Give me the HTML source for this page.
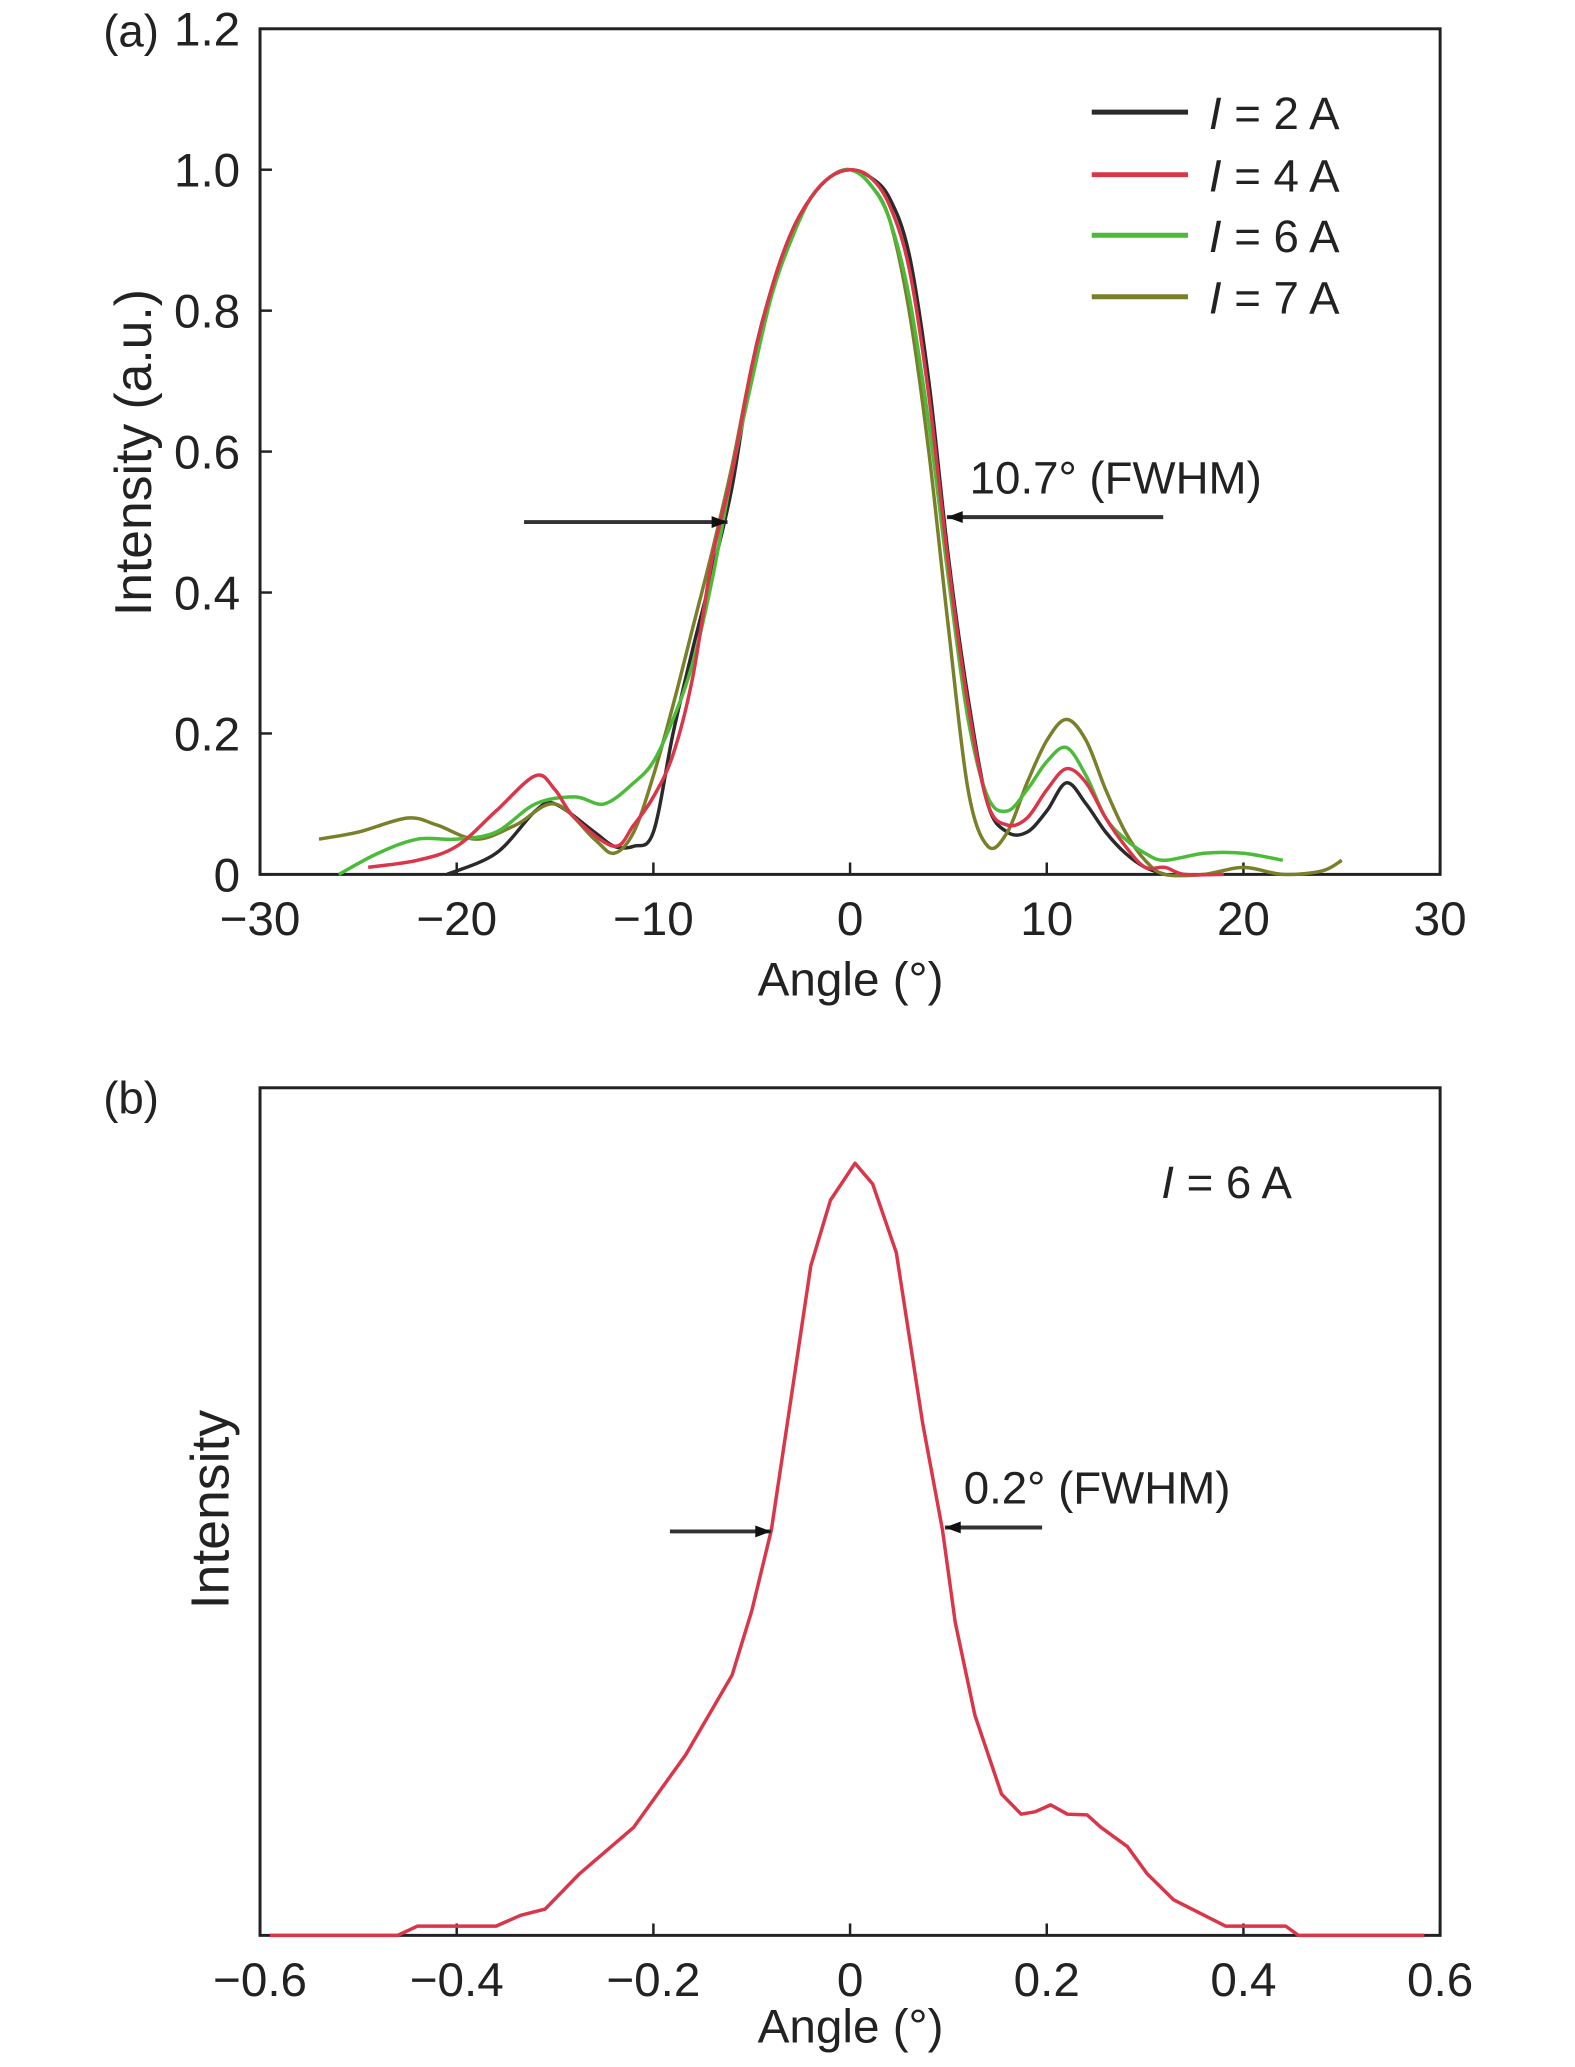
<!DOCTYPE html>
<html><head><meta charset="utf-8"><style>
html,body{margin:0;padding:0;background:#fff}
svg{display:block;font-family:"Liberation Sans",sans-serif}
</style></head><body>
<svg id="fig" width="1575" height="2067" viewBox="0 0 1575 2067">
<g transform="scale(0.9925)">
<g id="pa"></g>
<g id="pb"></g>
</g>
</svg>
<script>
const NS='http://www.w3.org/2000/svg';
// Panel (a) data
const aXTicks=[-30,-20,-10,0,10,20,30];
const aYTicks=[0,0.2,0.4,0.6,0.8,1.0,1.2];
const aYTickLabels=['0','0.2','0.4','0.6','0.8','1.0','1.2'];
const s2x=[-20.5,-18,-16,-15,-13,-12,-11,-10,-9,-8,-7,-6,-5,-4,-3,-2,-1,0,1,2,3,4,5,6,7,8,9,10,11,12,13,14,15,16];
const s2y=[0,0.03,0.09,0.1,0.06,0.04,0.04,0.06,0.2,0.32,0.43,0.55,0.72,0.83,0.91,0.96,0.99,1.0,0.99,0.96,0.88,0.7,0.45,0.25,0.1,0.06,0.06,0.09,0.13,0.1,0.06,0.03,0.01,0];
const s4x=[-24.5,-22,-20,-18,-16,-15,-14,-12,-11,-10,-9,-8,-7,-6,-5,-4,-3,-2,-1,0,1,2,3,4,5,6,7,8,9,10,11,12,13,14,15,16,17,19];
const s4y=[0.01,0.02,0.04,0.09,0.14,0.12,0.08,0.04,0.07,0.11,0.17,0.28,0.45,0.57,0.72,0.83,0.91,0.96,0.99,1.0,0.99,0.95,0.86,0.68,0.44,0.24,0.1,0.07,0.08,0.12,0.15,0.13,0.08,0.04,0.01,0.01,0,0];
const s6x=[-26,-24,-22,-20,-18,-16,-14,-12.5,-11,-10,-9,-8,-7,-6,-5,-4,-3,-2,-1,0,1,2,3,4,5,6,7,8,9,10,11,12,13,14,15,16,18,20,22];
const s6y=[0,0.03,0.05,0.05,0.06,0.1,0.11,0.1,0.13,0.16,0.22,0.3,0.42,0.57,0.7,0.82,0.9,0.96,0.99,1.0,0.98,0.93,0.82,0.64,0.42,0.22,0.11,0.09,0.12,0.16,0.18,0.14,0.08,0.05,0.03,0.02,0.03,0.03,0.02];
const s7x=[-27,-25,-22.5,-21,-19,-17,-15,-13,-12,-11,-10,-9,-8,-7,-6,-5,-4,-3,-2,-1,0,1,2,3,4,5,6,7,8,9,10,11,12,13,14,15,16,18,20,22,24,25];
const s7y=[0.05,0.06,0.08,0.07,0.05,0.07,0.1,0.05,0.03,0.06,0.14,0.24,0.35,0.46,0.58,0.72,0.83,0.91,0.96,0.99,1.0,0.98,0.93,0.8,0.6,0.35,0.12,0.04,0.06,0.13,0.19,0.22,0.19,0.12,0.06,0.02,0,0,0.01,0,0.005,0.02];
const seriesNames=['I = 2 A','I = 4 A','I = 6 A','I = 7 A'];
// Panel (b) data
const bXTicks=[-0.6,-0.4,-0.2,0,0.2,0.4,0.6];
const bXTickLabels=['\u22120.6','\u22120.4','\u22120.2','0','0.2','0.4','0.6'];
const bx=[-0.59,-0.46,-0.44,-0.36,-0.335,-0.31,-0.275,-0.22,-0.167,-0.12,-0.1,-0.08,-0.06,-0.04,-0.02,0.005,0.023,0.047,0.074,0.094,0.107,0.127,0.154,0.174,0.188,0.204,0.221,0.241,0.255,0.282,0.302,0.329,0.382,0.443,0.456,0.584];
const by=[0,0,0.012,0.012,0.026,0.034,0.08,0.14,0.234,0.337,0.42,0.525,0.696,0.867,0.952,1.0,0.973,0.884,0.662,0.525,0.405,0.285,0.183,0.157,0.16,0.169,0.157,0.156,0.14,0.115,0.08,0.046,0.012,0.012,0,0];

function el(tag,attrs,parent,text){const e=document.createElementNS(NS,tag);for(const k in attrs)e.setAttribute(k,attrs[k]);if(text!==undefined)e.textContent=text;parent.appendChild(e);return e;}
function smooth(pts){
  let d='M'+pts[0][0].toFixed(1)+','+pts[0][1].toFixed(1);
  for(let i=0;i<pts.length-1;i++){
    const p0=pts[Math.max(i-1,0)],p1=pts[i],p2=pts[i+1],p3=pts[Math.min(i+2,pts.length-1)];
    const c1=[p1[0]+(p2[0]-p0[0])/6,p1[1]+(p2[1]-p0[1])/6];
    const c2=[p2[0]-(p3[0]-p1[0])/6,p2[1]-(p3[1]-p1[1])/6];
    d+=` C${c1[0].toFixed(1)},${c1[1].toFixed(1)} ${c2[0].toFixed(1)},${c2[1].toFixed(1)} ${p2[0].toFixed(1)},${p2[1].toFixed(1)}`;
  }
  return d;
}
const L=262,R=1451;
// Panel a axes
const aTop=29,aBot=881;
const ax=v=>L+(v+30)/60*(R-L);
const ay=v=>aBot-v/1.2*(aBot-aTop);
const pa=document.getElementById('pa');
const fa=el('rect',{x:L,y:aTop,width:R-L,height:aBot-aTop,fill:'none',stroke:'#222','stroke-width':3},pa);


aXTicks.forEach(t=>{
  const ln=el('line',{x1:ax(t),x2:ax(t),y1:aBot,y2:aBot-12,stroke:'#222','stroke-width':2.5},pa);
  
  
  const tx=el('text',{x:ax(t),y:aBot+61,'font-size':48,'text-anchor':'middle',fill:'#222'},pa,t<0?'\u2212'+(-t):String(t));
  
  
});
aYTicks.forEach((t,i)=>{
  const ln=el('line',{x1:L,x2:L+12,y1:ay(t),y2:ay(t),stroke:'#222','stroke-width':2.5},pa);
  
  
  const tx=el('text',{x:L-20,y:ay(t)+17,'font-size':48,'text-anchor':'end',fill:'#222'},pa,aYTickLabels[i]);
  
  
});
const cols=['#2a2a2a','#d9364a','#4cbb3a','#7a7f2a'];
const xs=[s2x,s4x,s6x,s7x],ys=[s2y,s4y,s6y,s7y];
[0,3,2,1].forEach(i=>{
  const d=smooth(xs[i].map((x,j)=>[ax(x),ay(ys[i][j])]));
  const p=el('path',{d:d,fill:'none',stroke:cols[i],'stroke-width':3.5,'stroke-linejoin':'round'},pa);
  
  
});
const legY=[113,176,237,299];
seriesNames.forEach((n,i)=>{
  const g=el('g',{},pa);
  
  
  el('line',{x1:1100,x2:1197,y1:legY[i],y2:legY[i],stroke:cols[i],'stroke-width':5},g);
  const t=el('text',{x:1218,y:legY[i]+17,'font-size':46,fill:'#222'},g);
  el('tspan',{'font-style':'italic'},t,'I');
  el('tspan',{},t,' = '+n.slice(4));
});
function arrow(parent,x1,x2,y,name){
  const g=el('g',{},parent);
  
  
  el('line',{x1:x1,x2:x2,y1:y,y2:y,stroke:'#333','stroke-width':4},g);
  const dir=x2>x1?1:-1;
  el('polygon',{points:`${x2},${y} ${x2-dir*16},${y-6} ${x2-dir*16},${y+6}`,fill:'#111'},g);
}
arrow(pa,528,733,526,'fwhm-arrow-left-a');
arrow(pa,1172,954,521,'fwhm-arrow-right-a');
const fwa=el('text',{x:977,y:497,'font-size':46,fill:'#222'},pa,'10.7\u00b0 (FWHM)');


const la=el('text',{x:104,y:47,'font-size':46,fill:'#222'},pa,'(a)');


const xla=el('text',{x:857,y:1003,'font-size':48,'text-anchor':'middle',fill:'#222'},pa,'Angle (\u00b0)');


const yla=el('text',{x:0,y:0,'font-size':52,'text-anchor':'middle',fill:'#222',transform:'translate(152,456) rotate(-90)'},pa,'Intensity (a.u.)');



// Panel b
const bTop=1096,bBot=1950;
const bxf=v=>L+(v+0.6)/1.2*(R-L);
const byf=v=>bBot-v*778;
const pb=document.getElementById('pb');
const fb=el('rect',{x:L,y:bTop,width:R-L,height:bBot-bTop,fill:'none',stroke:'#222','stroke-width':3},pb);


bXTicks.forEach((t,i)=>{
  const ln=el('line',{x1:bxf(t),x2:bxf(t),y1:bBot,y2:bBot-12,stroke:'#222','stroke-width':2.5},pb);
  
  
  const tx=el('text',{x:bxf(t),y:bBot+61,'font-size':48,'text-anchor':'middle',fill:'#222'},pb,bXTickLabels[i]);
  
  
});
const db=bx.map((x,j)=>(j?'L':'M')+bxf(x).toFixed(1)+','+byf(by[j]).toFixed(1)).join(' ');
const pbl=el('path',{d:db,fill:'none',stroke:'#d9364a','stroke-width':3.5,'stroke-linejoin':'round'},pb);


arrow(pb,675,777,1543,'fwhm-arrow-left-b');
arrow(pb,1050,952,1539,'fwhm-arrow-right-b');
const fwb=el('text',{x:971,y:1515,'font-size':46,fill:'#222'},pb,'0.2\u00b0 (FWHM)');


const lb6=el('text',{x:1170,y:1207,'font-size':46,fill:'#222'},pb);


el('tspan',{'font-style':'italic'},lb6,'I');
el('tspan',{},lb6,' = 6 A');
const lb=el('text',{x:104,y:1122,'font-size':46,fill:'#222'},pb,'(b)');


const xlb=el('text',{x:857,y:2058,'font-size':48,'text-anchor':'middle',fill:'#222'},pb,'Angle (\u00b0)');


const ylb=el('text',{x:0,y:0,'font-size':54,'text-anchor':'middle',fill:'#222',transform:'translate(230,1521) rotate(-90)'},pb,'Intensity');


</script>
</body></html>
